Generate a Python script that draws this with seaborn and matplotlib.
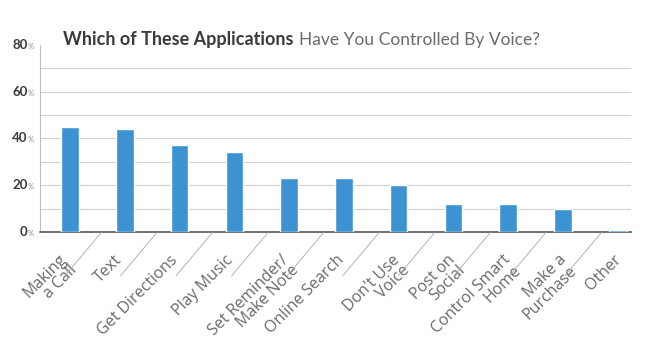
import matplotlib
matplotlib.use("Agg")
import matplotlib.pyplot as plt
import seaborn as sns
import pandas as pd

# data
categories = [
    "Making\na Call", "Text", "Get Directions", "Play Music",
    "Set Reminder/\nMake Note", "Online Search", "Don't Use\nVoice",
    "Post on\nSocial", "Control Smart\nHome", "Make a\nPurchase", "Other",
]
percent = [45, 44, 37, 34, 23, 23, 20, 12, 12, 10, 1]
y_ticks = [0, 20, 40, 60, 80]
grid_lines = [10, 20, 30, 40, 50, 60, 70]

sns.set_style("white")
plt.rcParams["font.family"] = ["Lato", "DejaVu Sans"]

df = pd.DataFrame({"app": categories, "pct": percent})

fig = plt.figure(figsize=(6.5, 3.59), dpi=100)
ax = fig.add_axes([0.0615, 0.354, 0.91, 0.521])

# background grid
for g in grid_lines:
    ax.axhline(g, color="#d0d0d0", lw=0.8, zorder=0)

sns.barplot(data=df, x="app", y="pct", color="#3d93d2", width=0.32,
            saturation=1, ax=ax, zorder=3)

ax.set_xlim(-0.55, 10.25)
ax.set_ylim(0, 80)
ax.set_xlabel("")
ax.set_ylabel("")
sns.despine(ax=ax, top=True, right=True)
ax.spines["left"].set_color("#bdbdbd")
ax.spines["left"].set_linewidth(0.8)
ax.spines["bottom"].set_color("#555555")
ax.spines["bottom"].set_linewidth(1.2)
ax.tick_params(axis="both", length=0)

# y tick labels: bold number + small %
ax.set_yticks(y_ticks)
ax.set_yticklabels([])
ytrans = ax.get_yaxis_transform()
for v in y_ticks:
    ax.annotate(str(v), xy=(0, v), xycoords=ytrans, xytext=(-9, 0),
                textcoords="offset points", ha="right", va="center",
                fontsize=9.5, fontweight="bold", color="#3a3a3a")
    ax.annotate("%", xy=(0, v), xycoords=ytrans, xytext=(-9, -1),
                textcoords="offset points", ha="left", va="center",
                fontsize=5.5, color="#888888")

# label row is spaced slightly wider than the bars in the original
stretch = 1.0145

# x labels rotated
ax.set_xticks(range(len(categories)))
ax.set_xticklabels([])
xtrans = ax.get_xaxis_transform()
for i, name in enumerate(categories):
    ax.annotate(name, xy=(i * stretch - 0.127, 0), xycoords=xtrans,
                xytext=(-5 * 0.72, -20 * 0.72), textcoords="offset points",
                rotation=45, rotation_mode="anchor", ha="right", va="top",
                multialignment="right", linespacing=0.9,
                fontsize=11.5, color="#6a6a6a",
                family=["Open Sans", "DejaVu Sans"])

# diagonal separators between labels
for i in range(len(categories) - 1):
    ax.annotate("", xy=(i * stretch + 0.58, 0), xycoords=xtrans,
                xytext=(-37 * 0.72, -44 * 0.72), textcoords="offset points",
                arrowprops=dict(arrowstyle="-", color="#a8a8a8", lw=0.6,
                                shrinkA=0, shrinkB=0))

# title: bold part + regular part
t1 = fig.text(0.097, 0.874, "Which of These Applications", fontsize=13,
              fontweight="bold", color="#3a3a3a", ha="left", va="baseline")
fig.canvas.draw()
bb = t1.get_window_extent()
x2 = bb.x1 / fig.bbox.width + 0.009
fig.text(x2, 0.874, "Have You Controlled By Voice?", fontsize=12.5,
         fontweight="normal", color="#6b6b6b", ha="left", va="baseline")

fig.savefig("out.png", dpi=100)
